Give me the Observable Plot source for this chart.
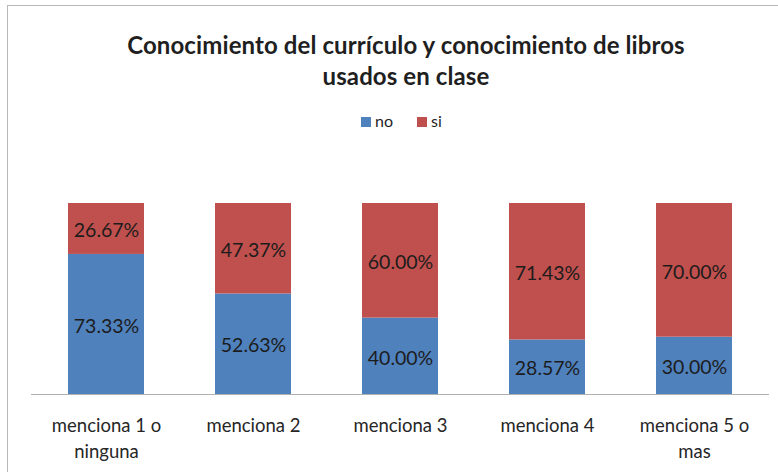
<!DOCTYPE html>
<html>
<head>
<meta charset="utf-8">
<script src="https://cdn.jsdelivr.net/npm/d3@7"></script>
<script src="https://cdn.jsdelivr.net/npm/@observablehq/plot@0.6"></script>
<style>
  html, body { margin: 0; padding: 0; background: #fff; }
  #wrap { position: relative; width: 778px; height: 472px; overflow: hidden; font-family: Lato, "Open Sans", sans-serif; color: #1f1f1f; }
  #frame { position: absolute; left: 7px; top: 5px; width: 800px; height: 500px; border-left: 1.5px solid #b8b8b8; border-top: 1.5px solid #b8b8b8; }
  #title { position: absolute; left: 0; top: 29px; width: 812px; text-align: center; font-weight: bold; font-size: 24px; line-height: 31px; letter-spacing: 0.1px; }
  #legend { position: absolute; left: 0; top: 110px; width: 803px; text-align: center; font-size: 16px; line-height: 22px; }
  #legend span.sw { display: inline-block; width: 10px; height: 10px; margin-right: 4px; vertical-align: 0px; }
  #legend span.it { margin: 0 12px; }
  #chart { position: absolute; left: 0; top: 140px; }
</style>
</head>
<body>
<div id="wrap">
  <div id="frame"></div>
  <div id="title">Conocimiento del currículo y conocimiento de libros<br>usados en clase</div>
  <div id="legend"></div>
  <div id="chart"></div>
</div>
<script>
const categories = ["menciona 1 o\nninguna", "menciona 2", "menciona 3", "menciona 4", "menciona 5 o\nmas"];
const seriesNames = ["no", "si"];
const noValues = [73.33, 52.63, 40.00, 28.57, 30.00];
const siValues = [26.67, 47.37, 60.00, 71.43, 70.00];
const colors = ["#4F81BD", "#C0504D"];

const rows = [];
categories.forEach((c, i) => {
  rows.push({cat: c, serie: "no", v: noValues[i] / 100});
  rows.push({cat: c, serie: "si", v: siValues[i] / 100});
});

const legend = document.getElementById("legend");
legend.innerHTML = seriesNames.map((s, i) =>
  `<span class="it"><span class="sw" style="background:${colors[i]}"></span>${s}</span>`).join("");

const chart = Plot.plot({
  width: 778,
  height: 332,
  marginLeft: 31,
  marginRight: 9,
  marginTop: 63,
  marginBottom: 78,
  style: {fontFamily: "Lato, 'Open Sans', sans-serif", background: "transparent"},
  x: {domain: categories, paddingInner: 0.485, paddingOuter: 0.2425, axis: null},
  y: {domain: [0, 1], axis: null},
  color: {domain: seriesNames, range: colors},
  marks: [
    Plot.barY(rows, Plot.stackY({x: "cat", y: "v", fill: "serie", order: seriesNames})),
    Plot.text(rows, Plot.stackY({x: "cat", y: "v", z: "serie", order: seriesNames,
      text: d => (d.v * 100).toFixed(2) + "%", fontSize: 19.5, fill: "#1c1c1c", dy: 2})),
    Plot.ruleY([0], {stroke: "#b0b0b0", strokeWidth: 1.2}),
    Plot.text(categories, {x: d => d, y: 0, text: d => d, lineAnchor: "top", dy: 19,
      lineHeight: 1.4, fontSize: 18.5, fill: "#262626"})
  ]
});
document.getElementById("chart").appendChild(chart);
</script>
</body>
</html>
